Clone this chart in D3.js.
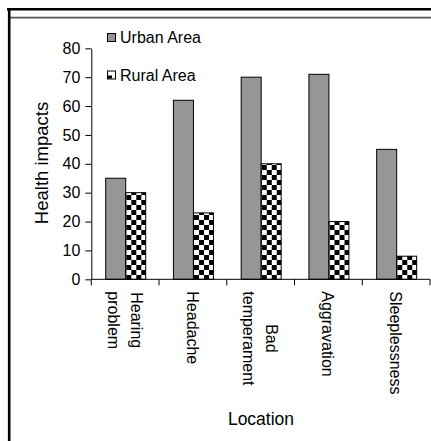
<!DOCTYPE html>
<html>
<head>
<meta charset="utf-8">
<script src="https://cdn.jsdelivr.net/npm/d3@7"></script>
<style>
  body { margin: 0; background: #fff; }
  svg { display: block; }
  text { font-family: "Liberation Sans", Arial, sans-serif; fill: #000; }
</style>
</head>
<body>
<div id="viz"></div>
<script>
var categories = ['Hearing problem', 'Headache', 'Bad temperament', 'Aggravation', 'Sleeplessness'];
var labelLines = [['Hearing', 'problem'], ['Headache'], ['Bad', 'temperament'], ['Aggravation'], ['Sleeplessness']];
var seriesNames = ['Urban Area', 'Rural Area'];
var urban = [35, 62, 70, 71, 45];
var rural = [30, 23, 40, 20, 8];
var yTicks = [0, 10, 20, 30, 40, 50, 60, 70, 80];

var width = 431, height = 441;
var svg = d3.select('#viz').append('svg')
    .attr('width', width)
    .attr('height', height);

// checkerboard for rural bars
var pat = svg.append('defs').append('pattern')
    .attr('id', 'checks')
    .attr('patternUnits', 'userSpaceOnUse')
    .attr('width', 10).attr('height', 10);
pat.append('rect').attr('width', 10).attr('height', 10).attr('fill', '#fff');
pat.append('rect').attr('width', 5).attr('height', 5).attr('fill', '#000');
pat.append('rect').attr('x', 5).attr('y', 5).attr('width', 5).attr('height', 5).attr('fill', '#000');

// frame
svg.append('line').attr('x1', 7).attr('x2', width).attr('y1', 9.2).attr('y2', 9.2)
    .attr('stroke', '#000').attr('stroke-width', 2.6);
svg.append('line').attr('x1', 10).attr('x2', width).attr('y1', 17.6).attr('y2', 17.6)
    .attr('stroke', '#555').attr('stroke-width', 1.8);
svg.append('line').attr('x1', 9.2).attr('x2', 9.2).attr('y1', 8).attr('y2', height)
    .attr('stroke', '#000').attr('stroke-width', 2.6);

var y = d3.scaleLinear().domain([0, 80]).range([279.3, 48.3]);
var x0 = d3.scaleBand().domain(categories).range([91.3, 430]);
var x1 = d3.scaleBand().domain(seriesNames).range([14.4, 54.4]);

var rows = categories.map(function (c, i) {
    return { cat: c, values: [urban[i], rural[i]] };
});

var groups = svg.selectAll('g.grp').data(rows).enter().append('g')
    .attr('class', 'grp')
    .attr('transform', function (d) { return 'translate(' + x0(d.cat) + ',0)'; });

groups.selectAll('rect').data(function (d) {
    return d.values.map(function (v, j) { return { s: seriesNames[j], v: v }; });
}).enter().append('rect')
    .attr('x', function (d) { return x1(d.s); })
    .attr('width', x1.bandwidth())
    .attr('y', function (d) { return y(d.v); })
    .attr('height', function (d) { return y(0) - y(d.v); })
    .attr('fill', function (d) { return d.s === 'Urban Area' ? '#969696' : 'url(#checks)'; })
    .attr('stroke', '#000')
    .attr('stroke-width', 1);

// y axis
var yAxis = svg.append('g')
    .attr('transform', 'translate(91.3,0)')
    .call(d3.axisLeft(y).tickValues(yTicks).tickSize(6).tickPadding(5).tickSizeOuter(0));
yAxis.selectAll('text').style('font-size', '16px')
    .style('font-family', '"Liberation Sans", Arial, sans-serif').attr('fill', '#000');
yAxis.selectAll('line, path').attr('stroke', '#000');

// x axis
var xAxis = svg.append('g')
    .attr('transform', 'translate(0,' + y(0) + ')');
xAxis.append('path').attr('d', 'M' + x0.range()[0] + ',0H' + x0.range()[1]).attr('stroke', '#000');
var xTickPos = categories.map(function (c) { return x0(c); }).concat([x0.range()[1]]);
xAxis.selectAll('line.tk').data(xTickPos).enter().append('line')
    .attr('x1', function (d) { return d; }).attr('x2', function (d) { return d; })
    .attr('y1', 0).attr('y2', 6).attr('stroke', '#000');

var lab = xAxis.selectAll('text.cat').data(categories).enter().append('text')
    .attr('class', 'cat')
    .attr('transform', function (d, i) {
        var n = labelLines[i].length;
        var cx = x0(d) + x0.bandwidth() / 2 - 2 + (n - 1) * 11.5;
        return 'translate(' + cx + ',12) rotate(90)';
    })
    .style('font-size', '16px')
    .attr('text-anchor', 'middle')
    .attr('dominant-baseline', 'middle');
lab.selectAll('tspan').data(function (d, i) { return labelLines[i]; }).enter().append('tspan')
    .attr('x', 0)
    .attr('dy', function (d, j) { return j === 0 ? 0 : 23; })
    .text(function (d) { return d; });
// centre the lines of each label on its longest line, starting just below the axis
lab.each(function () {
    var spans = d3.select(this).selectAll('tspan');
    var maxLen = 0;
    spans.each(function () { maxLen = Math.max(maxLen, this.getComputedTextLength()); });
    spans.attr('x', maxLen / 2);
});

// axis titles
svg.append('text')
    .attr('transform', 'translate(48,163) rotate(-90)')
    .attr('text-anchor', 'middle')
    .style('font-size', '18.5px')
    .text('Health impacts');
svg.append('text')
    .attr('x', 261).attr('y', 425)
    .attr('text-anchor', 'middle')
    .style('font-size', '17.5px')
    .text('Location');

// legend
var legend = svg.append('g');
var lg = legend.selectAll('g').data(seriesNames).enter().append('g')
    .attr('transform', function (d, i) { return 'translate(107,' + (33 + i * 37.5) + ')'; });
lg.append('rect').attr('x', 0.5).attr('y', 0.5).attr('width', 8).attr('height', 8)
    .attr('fill', function (d, i) { return i === 0 ? '#969696' : '#fff'; })
    .attr('stroke', '#000');
lg.filter(function (d, i) { return i === 1; }).append('rect')
    .attr('x', 1).attr('y', 5).attr('width', 4).attr('height', 3).attr('fill', '#000');
lg.append('text').attr('x', 13).attr('y', 10)
    .style('font-size', '16px')
    .text(function (d) { return d; });
</script>
</body>
</html>
